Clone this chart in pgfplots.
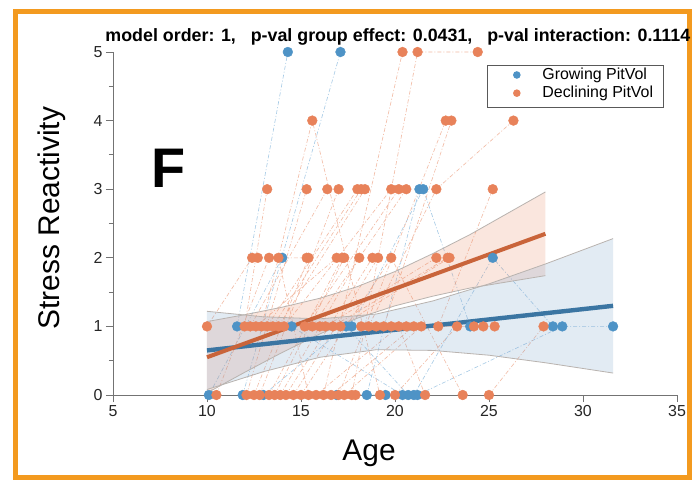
\documentclass[border=0pt]{standalone}
\usepackage{fontspec}
\setmainfont{Liberation Sans}
\usepackage{pgfplots}
\pgfplotsset{compat=1.18}
\usepackage{pgfplotstable}

\definecolor{blueM}{HTML}{4E93C6}
\definecolor{orangeM}{HTML}{E8825A}
\definecolor{blueL}{HTML}{8FBDE0}
\definecolor{orangeL}{HTML}{EFA98C}
\definecolor{blueFit}{HTML}{3B75A2}
\definecolor{orangeFit}{HTML}{C9643A}
\definecolor{bandEdge}{HTML}{B9B3AF}
\definecolor{bandBlue}{HTML}{7FA5CC}
\definecolor{frameOr}{HTML}{F39A1F}

% declining PitVol subjects, one block each, nan rows break the lines
\pgfplotstableread{
x y
10.0 1
12.4 2
nan nan
10.5 0
13.3 2
nan nan
12.0 1
13.2 3
nan nan
12.1 0
15.3 3
nan nan
12.3 1
16.4 3
nan nan
12.5 0
15.4 2
nan nan
12.6 1
16.9 2
nan nan
12.8 0
17.0 3
nan nan
12.9 1
15.6 4
19.2 0
nan nan
13.3 0
17.2 2
nan nan
13.2 1
18.0 3
nan nan
13.6 0
17.3 2
nan nan
13.5 1
18.2 3
nan nan
13.9 0
18.1 2
nan nan
13.8 1
18.4 3
nan nan
14.2 0
18.8 2
nan nan
14.1 1
19.8 3
nan nan
14.6 0
19.1 2
nan nan
15.2 1
20.2 3
nan nan
15.0 0
19.8 2
23.6 0
nan nan
15.6 1
20.6 3
nan nan
16.2 0
20.4 5
nan nan
15.8 0
20.2 1
21.6 0
nan nan
16.3 1
22.2 2
nan nan
16.6 0
21.0 1
nan nan
16.7 1
22.8 2
nan nan
17.0 0
22.7 4
nan nan
17.1 1
22.9 2
nan nan
17.7 0
21.2 5
24.4 5
nan nan
17.3 0
21.4 1
nan nan
18.2 1
24.2 1
nan nan
18.6 1
22.2 3
26.3 4
nan nan
19.0 1
24.7 1
nan nan
19.4 1
23.0 4
nan nan
19.8 1
25.3 1
nan nan
20.0 0
23.3 1
nan nan
22.3 1
25.2 3
nan nan
16.0 1
20.6 1
nan nan
25.0 0
27.9 1
nan nan
12.7 2
15.3 2
nan nan
13.8 2
15.4 0
17.9 0
}\decl

% growing PitVol subjects
\pgfplotstableread{
x y
11.6 1
14.3 5
nan nan
11.9 0
17.1 5
nan nan
10.1 0
14.0 2
nan nan
13.0 0
17.4 1
20.7 0
nan nan
18.5 0
21.3 3
nan nan
17.7 1
21.5 3
24.0 1
nan nan
16.9 0
19.5 0
nan nan
21.0 0
25.2 2
28.4 1
nan nan
21.2 0
28.9 1
31.6 1
nan nan
14.5 1
20.4 0
}\grow

\begin{document}
\begin{tikzpicture}
\useasboundingbox (-113bp,-87bp) rectangle (581bp,395bp);
\fill[white] (-113bp,-87bp) rectangle (581bp,395bp);
\draw[frameOr, line width=5bp] (-97bp,-82bp) rectangle (576bp,383bp);
\begin{axis}[
  scale only axis, width=564bp, height=343bp,
  xmin=5, xmax=35, ymin=0, ymax=5,
  axis x line*=bottom, axis y line*=left,
  axis line style={black!55, line width=0.8bp},
  xtick={5,10,...,35}, ytick={0,1,...,5}, minor y tick num=1,
  tick style={black!55, line width=0.8bp},
  tick align=outside, major tick length=7bp, minor tick length=4bp,
  tick label style={font=\fontsize{16}{16}\selectfont, text=black!85},
  /pgf/number format/assume math mode=true,
  xlabel={Age}, ylabel={Stress Reactivity},
  every axis x label/.style={at={(rel axis cs:0.454,0)}, yshift=-58bp, anchor=center, font=\fontsize{30}{30}\selectfont},
  every axis y label/.style={at={(rel axis cs:0,0.516)}, xshift=-61bp, rotate=90, anchor=center, font=\fontsize{30}{30}\selectfont},
  title={model order: 1,\ \ \ p-val group effect: 0.0431,\ \ \ p-val interaction: 0.1114},
  title style={font=\bfseries\fontsize{17.9}{18}\selectfont, at={(0.505,1)}, anchor=south, yshift=-3bp},
  clip=false,
  unbounded coords=jump,
]
% subject trajectories
\addplot[blueL, opacity=0.8, line width=0.6bp, dash pattern=on 4bp off 2bp on 1bp off 2bp] table {\grow};
\addplot[orangeL, opacity=0.8, line width=0.6bp, dash pattern=on 4bp off 2bp on 1bp off 2bp] table {\decl};
% points
\addplot[blueM, only marks, mark=*, mark size=4.9bp, mark options={draw=blueM, fill=blueM}] table {\grow};
\addplot[orangeM, only marks, mark=*, mark size=4.9bp, mark options={draw=orangeM, fill=orangeM}] table {\decl};
% confidence bands
\addplot[draw=none, fill=orangeM, fill opacity=0.2] coordinates {
  (10,1.07) (12,1.17) (14,1.28) (16,1.41) (18,1.58) (20,1.80) (22,2.06) (24,2.34) (26,2.65) (28,2.96)
  (28,1.74) (26,1.65) (24,1.56) (22,1.44) (20,1.30) (18,1.12) (16,0.89) (14,0.62) (12,0.33) (10,0.03)
} -- cycle;
\addplot[draw=none, fill=bandBlue, fill opacity=0.22] coordinates {
  (10,1.22) (13,1.14) (16,1.11) (19,1.18) (22,1.37) (25,1.62) (28,1.91) (31.6,2.28)
  (31.6,0.32) (28,0.47) (25,0.58) (22,0.65) (19,0.66) (16,0.55) (13,0.34) (10,0.08)
} -- cycle;
\addplot[bandEdge, line width=0.8bp] coordinates {
  (10,1.07) (12,1.17) (14,1.28) (16,1.41) (18,1.58) (20,1.80) (22,2.06) (24,2.34) (26,2.65) (28,2.96)};
\addplot[bandEdge, line width=0.8bp] coordinates {
  (10,0.03) (12,0.33) (14,0.62) (16,0.89) (18,1.12) (20,1.30) (22,1.44) (24,1.56) (26,1.65) (28,1.74)};
\addplot[bandEdge, line width=0.8bp] coordinates {
  (10,1.22) (13,1.14) (16,1.11) (19,1.18) (22,1.37) (25,1.62) (28,1.91) (31.6,2.28)};
\addplot[bandEdge, line width=0.8bp] coordinates {
  (10,0.08) (13,0.34) (16,0.55) (19,0.66) (22,0.65) (25,0.58) (28,0.47) (31.6,0.32)};
% fitted lines
\addplot[blueFit, line width=4.4bp] coordinates {(10,0.65) (31.6,1.30)};
\addplot[orangeFit, line width=4bp] coordinates {(10,0.55) (28,2.35)};
\node[font=\bfseries\fontsize{56}{56}\selectfont] at (axis cs:7.93,3.31) {F};
% legend box
\draw[black!65, line width=0.6bp, fill=white] (rel axis cs:0.663,0.840) rectangle (rel axis cs:0.975,0.962);
\fill[blueM] (rel axis cs:0.716,0.933) circle (3.8bp);
\fill[orangeM] (rel axis cs:0.716,0.880) circle (3.8bp);
\node[anchor=west, font=\fontsize{16}{16}\selectfont, inner sep=0pt] at (rel axis cs:0.761,0.933) {Growing PitVol};
\node[anchor=west, font=\fontsize{16}{16}\selectfont, inner sep=0pt] at (rel axis cs:0.761,0.880) {Declining PitVol};
\end{axis}
\end{tikzpicture}
\end{document}
